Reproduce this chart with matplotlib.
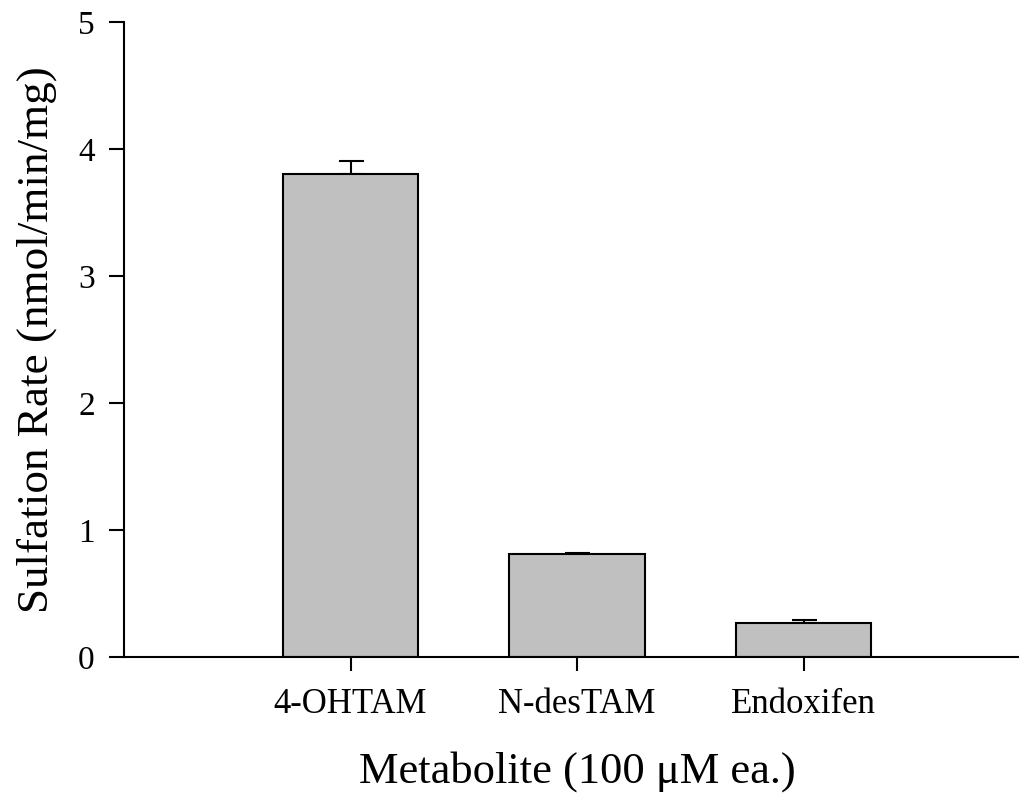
import numpy as np
import matplotlib.pyplot as plt

plt.rcParams['font.family'] = ['Liberation Serif', 'DejaVu Serif']

metabolites = ["4-OHTAM", "N-desTAM", "Endoxifen"]
rates = [3.80, 0.81, 0.27]
errors = [0.105, 0.012, 0.022]

fig = plt.figure(figsize=(10.19, 8), dpi=100)
ax = fig.add_axes([124 / 1019, (800 - 657) / 800, (1030 - 124) / 1019, 635 / 800])

x = np.arange(1, len(metabolites) + 1)
ax.bar(x, rates, width=0.6, color="#c0c0c0", edgecolor="black", linewidth=1.5, zorder=2)
ax.errorbar(x, rates, yerr=[np.zeros(len(errors)), errors], fmt="none", ecolor="black",
            elinewidth=1.5, capsize=9, capthick=1.5, zorder=1)

ax.set_xlim(0, 4)
ax.set_ylim(0, 5)
ax.set_xticks(x)
ax.set_xticklabels(metabolites, fontsize=25)
ax.set_yticks(range(6))
ax.tick_params(axis="y", labelsize=24, length=11, width=1.5, direction="out", pad=10)
ax.tick_params(axis="x", length=10, width=1.5, direction="out", pad=12)

ax.spines["top"].set_visible(False)
ax.spines["right"].set_visible(False)
ax.spines["left"].set_linewidth(1.5)
ax.spines["bottom"].set_linewidth(1.5)

ax.set_ylabel("Sulfation Rate (nmol/min/mg)", fontsize=32.5, labelpad=15)
ax.set_xlabel("Metabolite (100 \u03bcM ea.)", fontsize=32, labelpad=22)

fig.savefig("out.png", dpi=100)
